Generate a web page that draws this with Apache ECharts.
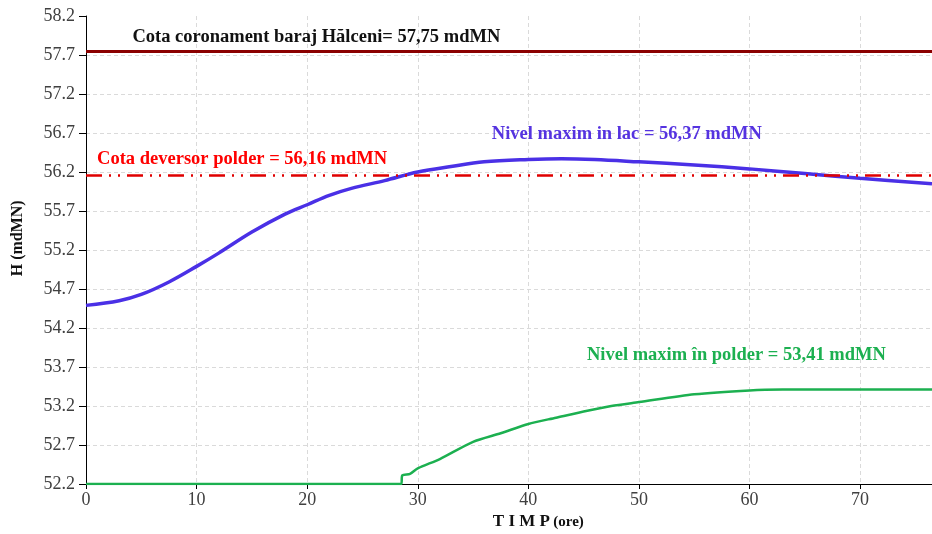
<!DOCTYPE html>
<html>
<head>
<meta charset="utf-8">
<script src="https://cdn.jsdelivr.net/npm/echarts@6/dist/echarts.min.js"></script>
<style>
  html, body { margin: 0; padding: 0; background: #fff; }
  #chart { width: 932px; height: 534px; }
</style>
</head>
<body>
<div id="chart"></div>
<script>
// Water level in the reservoir (lac), hours vs mdMN
const hoursLac = [0, 3, 5, 7.5, 10, 12, 15, 18, 20, 22, 24, 27, 30, 33, 36, 40, 43, 46, 50, 55, 60, 65, 70, 76.5];
const levelLac = [54.49, 54.55, 54.63, 54.79, 54.99, 55.16, 55.43, 55.66, 55.78, 55.90, 55.99, 56.09, 56.20, 56.27, 56.33, 56.36, 56.37, 56.36, 56.33, 56.29, 56.24, 56.18, 56.12, 56.05];

// Water level in the polder
const hoursPolder = [0, 28.5, 28.6, 29.3, 30, 32, 35, 37.5, 40, 42.5, 45, 47.5, 50, 55, 60, 63, 76.5];
const levelPolder = [52.2, 52.2, 52.31, 52.33, 52.40, 52.52, 52.74, 52.85, 52.97, 53.05, 53.13, 53.20, 53.25, 53.35, 53.40, 53.41, 53.41];

// Reference elevations
const crestLevel = 57.75;     // Cota coronament baraj Hălceni
const spillwayLevel = 56.16;  // Cota deversor polder

// Axis ranges
const xMin = 0, xMax = 76.5, xStep = 10;
const yMin = 52.2, yMax = 58.2, yStep = 0.5;

// Annotation texts and their anchor (left edge, vertical centre) in data units
const notes = [
  { text: 'Cota coronament baraj Hălceni= 57,75 mdMN', at: [4.2, 57.93], color: '#111111' },
  { text: 'Cota deversor polder = 56,16 mdMN', at: [1.0, 56.37], color: '#ff0000' },
  { text: 'Nivel maxim in lac = 56,37 mdMN', at: [36.7, 56.69], color: '#5533e0' },
  { text: 'Nivel maxim în polder = 53,41 mdMN', at: [45.3, 53.85], color: '#1cb050' }
];

const serif = '"Liberation Serif", "Times New Roman", serif';

const pairs = (xs, ys) => xs.map((x, i) => [x, ys[i]]);

const chart = echarts.init(document.getElementById('chart'), null, { renderer: 'canvas' });

chart.setOption({
  animation: false,
  backgroundColor: '#ffffff',
  grid: { left: 86, right: 0, top: 16, bottom: 50, containLabel: false },
  xAxis: {
    type: 'value',
    min: xMin, max: xMax, interval: xStep,
    axisLine: { show: true, onZero: false, lineStyle: { color: '#000', width: 1 } },
    axisTick: { show: true, length: 5, lineStyle: { color: '#000' } },
    axisLabel: { color: '#404040', fontFamily: serif, fontSize: 18, margin: 7, showMaxLabel: false },
    splitLine: { show: true, showMinLine: false, showMaxLine: false,
      lineStyle: { color: '#dadada', type: [4, 3], width: 1 } }
  },
  yAxis: {
    type: 'value',
    min: yMin, max: yMax, interval: yStep,
    axisLine: { show: true, onZero: false, lineStyle: { color: '#000', width: 1 } },
    axisTick: { show: true, length: 7, lineStyle: { color: '#000' } },
    axisLabel: { color: '#404040', fontFamily: serif, fontSize: 18, margin: 11,
      formatter: v => v.toFixed(1) },
    splitLine: { show: true, showMinLine: false, showMaxLine: false,
      lineStyle: { color: '#dadada', type: [4, 3], width: 1 } }
  },
  series: [
    {
      name: 'Nivel lac',
      type: 'line',
      data: pairs(hoursLac, levelLac),
      smooth: 0.35,
      showSymbol: false,
      lineStyle: { color: '#4a30e6', width: 3.5 },
      z: 4,
      markLine: {
        silent: true,
        symbol: ['none', 'none'],
        label: { show: false },
        data: [
          { yAxis: crestLevel, lineStyle: { color: '#8b0000', width: 3, type: 'solid' } },
          { yAxis: spillwayLevel, lineStyle: { color: '#e00000', width: 2.5, type: [16, 7, 2, 7, 2, 7] } }
        ]
      }
    },
    {
      name: 'Nivel polder',
      type: 'line',
      data: pairs(hoursPolder, levelPolder),
      smooth: 0.25,
      showSymbol: false,
      lineStyle: { color: '#1cb050', width: 2.5 },
      z: 4
    }
  ]
});

// Text annotations and axis titles placed through the grid's coordinate system
const graphics = notes.map(n => {
  const p = chart.convertToPixel({ gridIndex: 0 }, n.at);
  return {
    type: 'text',
    x: p[0], y: p[1],
    style: {
      text: n.text,
      fill: n.color,
      font: 'bold 18.5px ' + serif,
      verticalAlign: 'middle',
      align: 'left'
    },
    z: 10
  };
});

const yMid = chart.convertToPixel({ gridIndex: 0 }, [0, 55.35]);
graphics.push({
  type: 'text',
  x: 18, y: yMid[1],
  rotation: Math.PI / 2,
  style: { text: 'H (mdMN)', fill: '#111', font: 'bold 16px ' + serif, align: 'center', verticalAlign: 'middle' }
});

const xMid = chart.convertToPixel({ gridIndex: 0 }, [40.9, yMin]);
graphics.push({
  type: 'text',
  x: xMid[0], y: 522,
  style: {
    text: '{a|T I M P} {b|(ore)}',
    align: 'center', verticalAlign: 'middle',
    rich: {
      a: { font: 'bold 17px ' + serif, fill: '#111' },
      b: { font: 'bold 15px ' + serif, fill: '#111' }
    }
  }
});

chart.setOption({ graphic: graphics });
</script>
</body>
</html>
